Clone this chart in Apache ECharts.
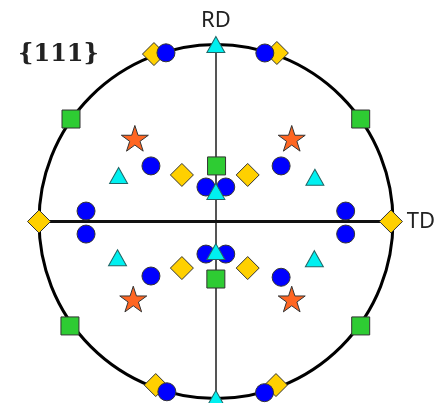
<!DOCTYPE html>
<html>
<head>
<meta charset="utf-8">
<script src="https://cdn.jsdelivr.net/npm/echarts@6/dist/echarts.min.js"></script>
<style>
html,body{margin:0;padding:0;background:#fff;}
#chart{width:438px;height:403px;}
</style>
</head>
<body>
<div id="chart"></div>
<script>
// pole figure {111}, coords normalised to the unit circle (x = TD, y = RD)
var triangles = [[0, 1], [0, -1], [0, 0.17], [0, -0.17], [-0.55, 0.26], [0.56, 0.25], [-0.556, -0.205], [0.557, -0.21]];
var circles = [[-0.282, 0.953], [0.277, 0.952], [-0.277, -0.962], [0.275, -0.967],
	[-0.367, 0.314], [0.369, 0.314], [-0.367, -0.308], [0.369, -0.315],
	[-0.056, 0.195], [0.056, 0.195], [-0.056, -0.184], [0.056, -0.184],
	[-0.734, 0.059], [-0.734, -0.071], [0.734, 0.059], [0.734, -0.071]];
var diamonds = [[-0.35, 0.946], [0.345, 0.952], [-0.34, -0.924], [0.34, -0.924],
	[-1, 0], [0.99, 0],
	[-0.192, 0.263], [0.18, 0.263], [-0.192, -0.263], [0.18, -0.263]];
var squares = [[-0.819, 0.579], [0.819, 0.579], [-0.825, -0.59], [0.819, -0.59], [0.004, 0.314], [0, -0.325]];
var stars = [[-0.458, 0.47], [0.429, 0.47], [-0.467, -0.438], [0.429, -0.438]];
var planeLabel = '{111}';

var starPath = 'path://M50,0 L61.2,34.5 L97.6,34.5 L68.2,55.9 L79.4,90.5 L50,69.1 L20.6,90.5 L31.8,55.9 L2.4,34.5 L38.8,34.5 Z';

var chart = echarts.init(document.getElementById('chart'));
var cx = 216, cy = 221.5, R = 177;
var edge = {borderColor: '#333', borderWidth: 1, opacity: 1};

var option = {
	animation: false,
	title: {
		text: planeLabel,
		left: 13,
		top: 38,
		textStyle: {fontFamily: 'DejaVu Serif', fontWeight: 'bold', fontSize: 24, color: '#222'}
	},
	polar: {center: [cx, cy], radius: R},
	angleAxis: {
		type: 'value', min: 0, max: 360,
		axisLine: {lineStyle: {color: '#000', width: 3}},
		axisTick: {show: false}, axisLabel: {show: false}, splitLine: {show: false}
	},
	radiusAxis: {show: false, min: 0, max: 1},
	grid: {left: cx - R, top: cy - R, width: 2 * R, height: 2 * R},
	xAxis: {
		type: 'value', min: -1, max: 1,
		name: 'TD', nameLocation: 'end', nameGap: 14,
		nameTextStyle: {fontFamily: 'Noto Sans', fontSize: 22, color: '#222', verticalAlign: 'middle'},
		axisLine: {lineStyle: {color: '#111', width: 3}},
		axisTick: {show: false}, axisLabel: {show: false}, splitLine: {show: false}
	},
	yAxis: {
		type: 'value', min: -1, max: 1,
		name: 'RD', nameLocation: 'end', nameGap: 13,
		nameTextStyle: {fontFamily: 'Noto Sans', fontSize: 22, color: '#222'},
		axisLine: {lineStyle: {color: '#555', width: 2}},
		axisTick: {show: false}, axisLabel: {show: false}, splitLine: {show: false}
	},
	series: [
		{type: 'scatter', data: squares, symbol: 'rect', symbolSize: 18,
			itemStyle: Object.assign({color: '#2ecc33'}, edge)},
		{type: 'scatter', data: diamonds, symbol: 'diamond', symbolSize: 23,
			itemStyle: Object.assign({color: '#ffd000'}, edge)},
		{type: 'scatter', data: circles, symbol: 'circle', symbolSize: 18,
			itemStyle: Object.assign({color: '#0000ff'}, edge)},
		{type: 'scatter', data: stars, symbol: starPath, symbolKeepAspect: true, symbolSize: 27,
			itemStyle: Object.assign({color: '#ff6622'}, edge)},
		{type: 'scatter', data: triangles, symbol: 'triangle', symbolSize: [18, 16],
			itemStyle: {color: '#00f0f0', borderColor: '#226666', borderWidth: 1, opacity: 1}}
	]
};
chart.setOption(option);
</script>
</body>
</html>
